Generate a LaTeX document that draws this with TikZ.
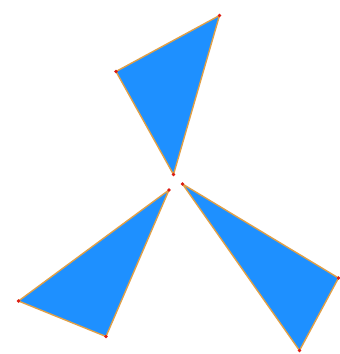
\documentclass[tikz,border=0pt]{standalone}
\definecolor{triblue}{RGB}{30,144,255}
\definecolor{edgeor}{RGB}{225,160,70}
\definecolor{dotred}{RGB}{220,30,20}
\tikzset{tri/.style={fill=triblue,draw=edgeor,line width=1.4pt,line join=round},
  vdot/.style={circle,fill=dotred,inner sep=0pt,minimum size=3.8pt}}
\begin{document}
\begin{tikzpicture}[x=1pt,y=-1pt]
\useasboundingbox (0,0) rectangle (340,354);
\coordinate (a1) at (219.5,15.5);
\coordinate (a2) at (116,71.5);
\coordinate (a3) at (173.5,174.5);
\coordinate (b1) at (169,190);
\coordinate (b2) at (18.5,301);
\coordinate (b3) at (106,336.5);
\coordinate (c1) at (182.5,184);
\coordinate (c2) at (338.5,278);
\coordinate (c3) at (299.5,350.5);
\draw[tri] (a1) -- (a2) -- (a3) -- cycle;
\draw[tri] (b1) -- (b2) -- (b3) -- cycle;
\draw[tri] (c1) -- (c2) -- (c3) -- cycle;
\foreach \p in {a1,a2,a3,b1,b2,b3,c1,c2,c3} \node[vdot] at (\p) {};
\end{tikzpicture}
\end{document}
